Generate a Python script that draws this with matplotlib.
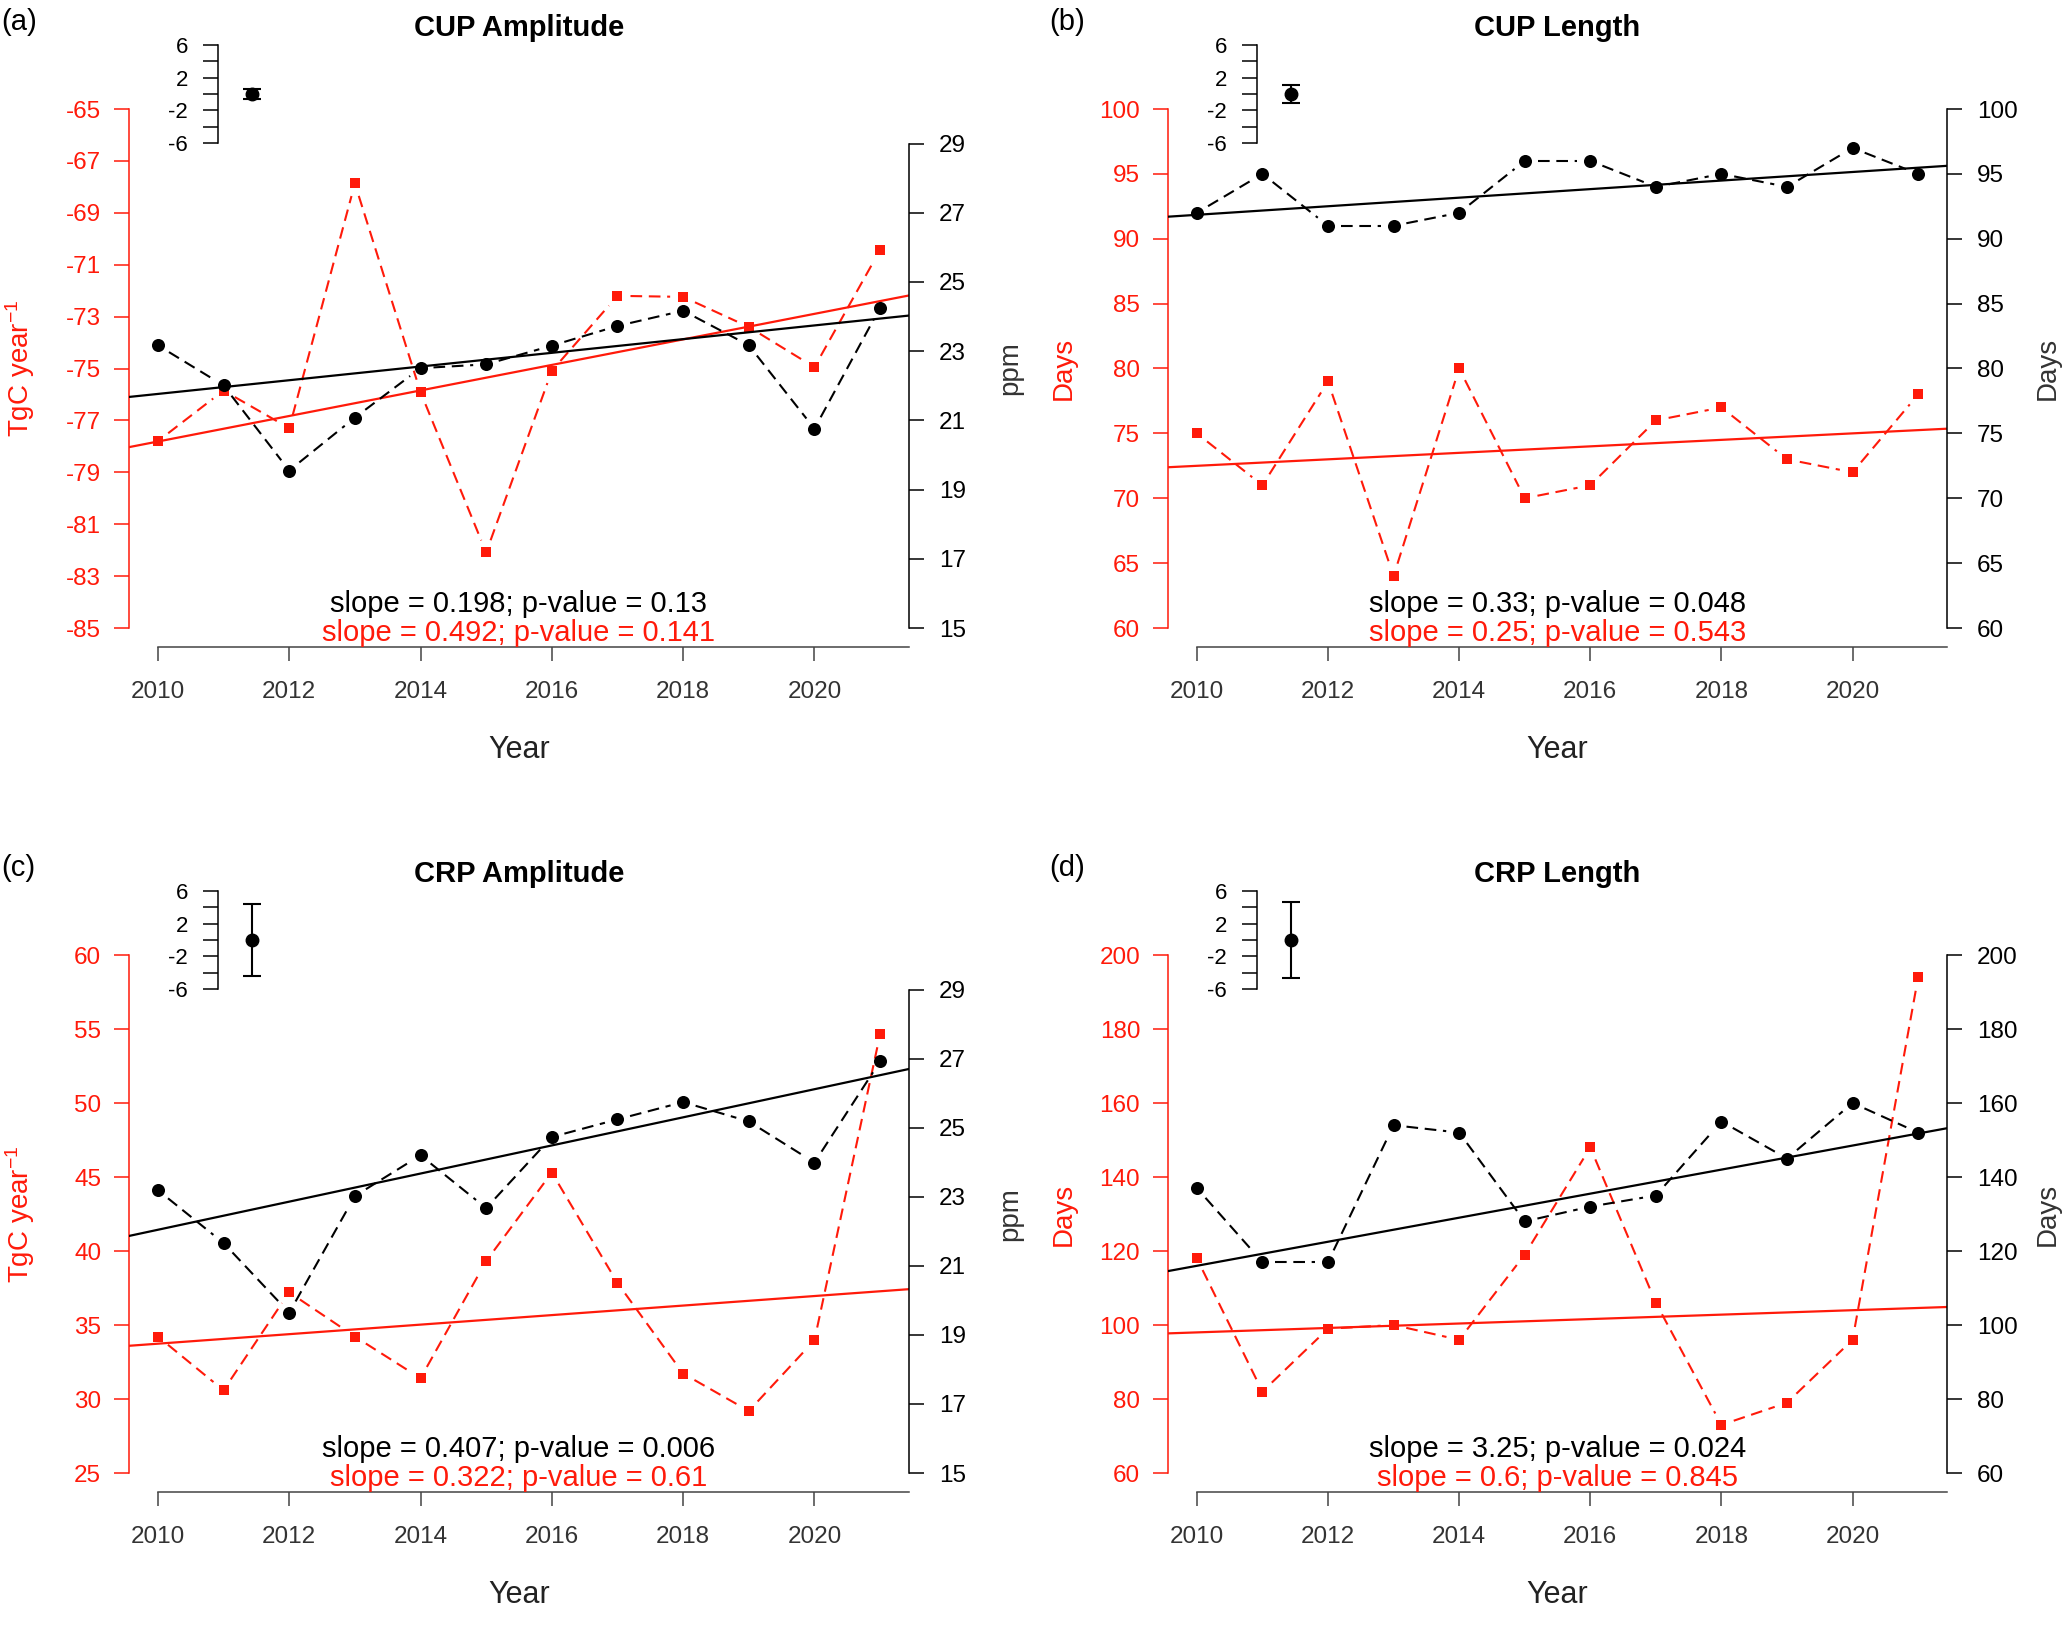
import numpy as np
import matplotlib
matplotlib.use("Agg")
import matplotlib.pyplot as plt

plt.rcParams['font.family'] = ['Liberation Sans', 'DejaVu Sans']
plt.rcParams['mathtext.fontset'] = 'custom'
plt.rcParams['mathtext.rm'] = 'Liberation Sans'
plt.rcParams['mathtext.it'] = 'Liberation Sans:italic'
plt.rcParams['axes.unicode_minus'] = False

YEARS = np.arange(2010, 2022)

# (a) CUP Amplitude: flux (red, TgC/yr) and CO2 (black, ppm)
CUP_AMP_FLUX = [-77.80, -75.85, -77.30, -67.87, -75.91, -82.09, -75.09, -72.20, -72.24, -73.40, -74.95, -70.43]
CUP_AMP_CO2 = [23.17, 22.01, 19.55, 21.08, 22.51, 22.62, 23.16, 23.73, 24.17, 23.17, 20.76, 24.26]
# (b) CUP Length (days)
CUP_LEN_FLUX = [75, 71, 79, 64, 80, 70, 71, 76, 77, 73, 72, 78]
CUP_LEN_CO2 = [92, 95, 91, 91, 92, 96, 96, 94, 95, 94, 97, 95]
# (c) CRP Amplitude
CRP_AMP_FLUX = [34.22, 30.59, 37.21, 34.22, 31.40, 39.32, 45.30, 37.84, 31.72, 29.19, 33.97, 54.65]
CRP_AMP_CO2 = [23.19, 21.66, 19.64, 23.02, 24.20, 22.67, 24.73, 25.24, 25.74, 25.18, 23.99, 26.92]
# (d) CRP Length (days)
CRP_LEN_FLUX = [118, 82, 99, 100, 96, 119, 148, 106, 73, 79, 96, 194]
CRP_LEN_CO2 = [137, 117, 117, 154, 152, 128, 132, 135, 155, 145, 160, 152]

FLUX = [CUP_AMP_FLUX, CUP_LEN_FLUX, CRP_AMP_FLUX, CRP_LEN_FLUX]
CO2 = [CUP_AMP_CO2, CUP_LEN_CO2, CRP_AMP_CO2, CRP_LEN_CO2]

TITLES = ["CUP Amplitude", "CUP Length", "CRP Amplitude", "CRP Length"]
LETTERS = ["(a)", "(b)", "(c)", "(d)"]
LEFT_LABELS = ["TgC year$^{-1}$", "Days", "TgC year$^{-1}$", "Days"]
RIGHT_LABELS = ["ppm", "Days", "ppm", "Days"]

# Sen slope / p-value printed on each panel (black = CO2, red = flux)
SLOPE_CO2 = [0.198, 0.33, 0.407, 3.25]
P_CO2 = [0.13, 0.048, 0.006, 0.024]
SLOPE_FLUX = [0.492, 0.25, 0.322, 0.6]
P_FLUX = [0.141, 0.543, 0.61, 0.845]

LEFT_TICKS = [np.arange(-85, -64, 2), np.arange(60, 101, 5), np.arange(25, 61, 5), np.arange(60, 201, 20)]
RIGHT_TICKS = [np.arange(15, 30, 2), np.arange(60, 101, 5), np.arange(15, 30, 2), np.arange(60, 201, 20)]
RIGHT_LIM = [(15, 30), (60, 100), (15, 30), (60, 200)]

# small uncertainty inset
INSET_TICKS = [-6, -4, -2, 0, 2, 4, 6]
INSET_LABELS = ["-6", "", "-2", "", "2", "", "6"]
INSET_MEAN = [0, 0, 0, 0]
INSET_ERR = [0.6, 1.05, 4.35, 4.7]

RED = "#ff1a0a"
W, H = 2067, 1626
COL_X = [(129, 909), (1168, 1947)]
ROW_Y = [(109, 628), (955, 1473)]
LETTER_X = [1, 1049]
LEFT_LABEL_DX = [-109, -104]
XLIM = (2009.56, 2021.44)
DASH = (0, (5.6, 3.2))
GAP_PX = 13   # R type="b": lines stop short of the points

fig = plt.figure(figsize=(W / 100, H / 100), dpi=100)


def fx(px):
    return px / W


def fy(py):
    return 1 - py / H


def box(x0, x1, ytop, ybot):
    return [fx(x0), fy(ybot), (x1 - x0) / W, (ybot - ytop) / H]


def sen_intercept(slope, y):
    return np.median(np.asarray(y, float) - slope * YEARS)


def gapped_line(ax, x, y, **kw):
    # connect consecutive points, leaving a gap round each point (like R type="b")
    pts = ax.transData.transform(np.column_stack([x, y]))
    inv = ax.transData.inverted()
    for p, q in zip(pts[:-1], pts[1:]):
        d = q - p
        L = np.hypot(*d)
        if L <= 2 * GAP_PX:
            continue
        u = d / L
        seg = inv.transform(np.array([p + u * GAP_PX, q - u * GAP_PX]))
        ax.plot(seg[:, 0], seg[:, 1], **kw)


for i in range(4):
    r, c = divmod(i, 2)
    x0, x1 = COL_X[c]
    ytop, ybot = ROW_Y[r]

    ax = fig.add_axes(box(x0, x1, ytop, ybot))
    ax.set_xlim(*XLIM)
    lt = LEFT_TICKS[i]
    ax.set_ylim(lt[0], lt[-1])
    ax.patch.set_alpha(0)

    xx = np.array(XLIM)
    b = sen_intercept(SLOPE_FLUX[i], FLUX[i])
    ax.plot(xx, b + SLOPE_FLUX[i] * xx, color=RED, lw=1.6, zorder=2)
    gapped_line(ax, YEARS, FLUX[i], color=RED, ls=DASH, lw=1.5, zorder=3)
    ax.plot(YEARS, FLUX[i], ls='none', color=RED, marker='s', ms=7.7, mew=0, zorder=3)

    for s in ['top', 'right']:
        ax.spines[s].set_visible(False)
    ax.spines['left'].set_color(RED)
    ax.spines['left'].set_linewidth(1.1)
    ax.spines['left'].set_bounds(lt[0], lt[-1])
    ax.set_yticks(lt)
    ax.set_yticklabels([str(v) for v in lt])
    ax.tick_params(axis='y', colors=RED, labelsize=17.5, length=10.5, width=1.1, pad=9.5)

    ax.spines['bottom'].set_position(('outward', 14))
    ax.spines['bottom'].set_bounds(2010, XLIM[1])
    ax.spines['bottom'].set_color('#444444')
    ax.spines['bottom'].set_linewidth(1.1)
    ax.set_xticks(np.arange(2010, 2021, 2))
    ax.tick_params(axis='x', colors='#444444', labelcolor='#333333', labelsize=17.5,
                   length=10, width=1.1, pad=14.5)

    # black series on the right axis
    ax2 = ax.twinx()
    ax2.set_xlim(*XLIM)
    ax2.set_ylim(*RIGHT_LIM[i])
    b2 = sen_intercept(SLOPE_CO2[i], CO2[i])
    ax2.plot(xx, b2 + SLOPE_CO2[i] * xx, color='black', lw=1.6, zorder=2)
    gapped_line(ax2, YEARS, CO2[i], color='black', ls=DASH, lw=1.5, zorder=3)
    ax2.plot(YEARS, CO2[i], ls='none', color='black', marker='o', ms=9.4, mew=0, zorder=3)
    for s in ['top', 'left', 'bottom']:
        ax2.spines[s].set_visible(False)
    rt = RIGHT_TICKS[i]
    ax2.spines['right'].set_bounds(rt[0], rt[-1])
    ax2.spines['right'].set_linewidth(1.1)
    ax2.set_yticks(rt)
    ax2.set_yticklabels([str(v) for v in rt])
    ax2.tick_params(axis='y', colors='black', labelsize=17.5, length=10.5, width=1.1, pad=11)

    # slope annotations
    xc = (x0 + x1) / 2
    fig.text(fx(xc), fy(ybot - 24),
             f"slope = {SLOPE_CO2[i]}; p-value = {P_CO2[i]}",
             ha='center', va='center', fontsize=21, color='black')
    fig.text(fx(xc), fy(ybot + 5),
             f"slope = {SLOPE_FLUX[i]}; p-value = {P_FLUX[i]}",
             ha='center', va='center', fontsize=21, color=RED)

    # title, panel letter, axis labels
    fig.text(fx(xc), fy(ytop - 81), TITLES[i], ha='center', va='center',
             fontsize=21, fontweight='bold')
    fig.text(fx(LETTER_X[c]), fy(ytop - 87), LETTERS[i], ha='left', va='center', fontsize=21)
    fig.text(fx(xc), fy(ybot + 122), "Year", ha='center', va='center', fontsize=22,
             color='#222222')
    fig.text(fx(x0 + LEFT_LABEL_DX[c]), fy((ytop + ybot) / 2), LEFT_LABELS[i], ha='center',
             va='center', rotation=90, fontsize=20, color=RED)
    fig.text(fx(x1 + 101), fy((ytop + ybot) / 2), RIGHT_LABELS[i], ha='center', va='center',
             rotation=90, fontsize=20, color='#333333')

    # inset with error bar
    ix = x0 + 89
    axi = fig.add_axes(box(ix, ix + 70, ytop - 64, ytop + 34))
    axi.patch.set_alpha(0)
    axi.set_xlim(0, 70)
    axi.set_ylim(-6, 6)
    for s in ['top', 'right', 'bottom']:
        axi.spines[s].set_visible(False)
    axi.spines['left'].set_linewidth(1.1)
    axi.set_xticks([])
    axi.set_yticks(INSET_TICKS)
    axi.set_yticklabels(INSET_LABELS)
    axi.tick_params(axis='y', labelsize=16, length=11, width=1.1, pad=10.5)
    axi.errorbar([34], [INSET_MEAN[i]], yerr=[INSET_ERR[i]], fmt='o', color='black',
                 ms=9.0, elinewidth=1.5, capsize=6.8, capthick=1.5, clip_on=False)

fig.savefig("out.png", dpi=100)
